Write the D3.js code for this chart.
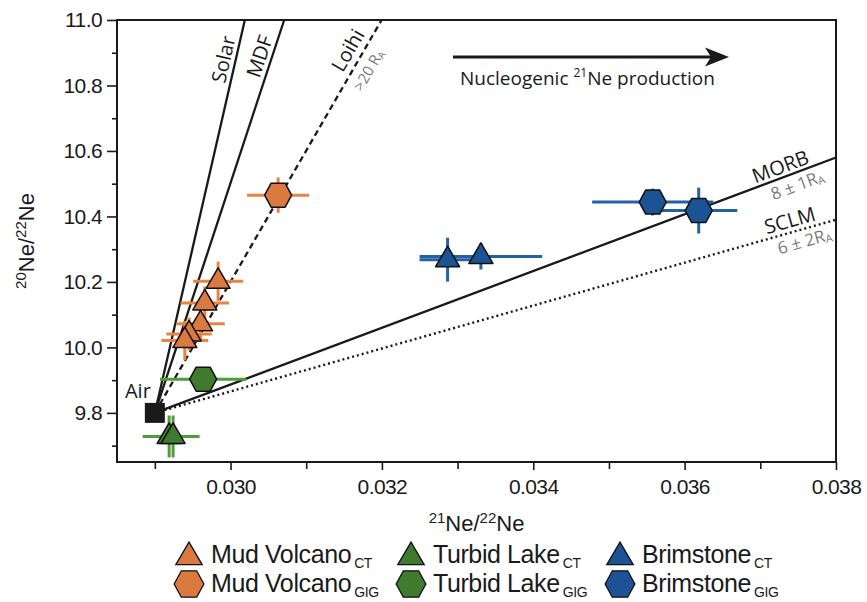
<!DOCTYPE html>
<html>
<head>
<meta charset="utf-8">
<script src="https://cdn.jsdelivr.net/npm/d3@7"></script>
<style>
  body { margin: 0; background: #fff; }
  svg { display: block; }
</style>
</head>
<body>
<svg id="chart" width="867" height="602"></svg>
<script>
// ---------------- data ----------------
// each row: [21Ne/22Ne, 20Ne/22Ne, x error, y error]
var mudVolcanoCT = [
	[0.029836, 10.202, 0.00033, 0.060],
	[0.029660, 10.136, 0.00032, 0.050],
	[0.029604, 10.072, 0.00032, 0.050],
	[0.029452, 10.041, 0.00030, 0.050],
	[0.029396, 10.021, 0.00031, 0.060]
];
var mudVolcanoGIG = [
	[0.030629, 10.465, 0.00041, 0.054]
];
var turbidLakeCT = [
	[0.029189, 9.728, 0.00035, 0.064],
	[0.029241, 9.728, 0.00035, 0.064]
];
var turbidLakeGIG = [
	[0.029638, 9.903, 0.00057, 0.020]
];
var brimstoneCT = [
	[0.032868, 10.268, 0.00037, 0.067],
	[0.033308, 10.278, 0.00081, 0.040]
];
var brimstoneGIG = [
	[0.035578, 10.444, 0.00080, 0.041],
	[0.036186, 10.418, 0.00051, 0.070]
];

var air = [0.0290, 9.80];

// mixing lines from air to their end point on the frame
var lineNames = ["Solar", "MDF", "Loihi", "MORB", "SCLM"];
var lineEnds = [
	[0.030189, 11.0],
	[0.030709, 11.0],
	[0.031996, 11.0],
	[0.0380, 10.580],
	[0.0380, 10.390]
];
var lineSubLabels = ["", "", ">20 R", "8 \u00b1 1R", "6 \u00b1 2R"];

var xTicks = [0.030, 0.032, 0.034, 0.036, 0.038];
var xMinorTicks = [0.029, 0.031, 0.033, 0.035, 0.037];
var yTicks = [9.8, 10.0, 10.2, 10.4, 10.6, 10.8, 11.0];
var yMinorTicks = [9.7, 9.9, 10.1, 10.3, 10.5, 10.7, 10.9];

var siteNames = ["Mud Volcano", "Turbid Lake", "Brimstone"];
var siteColors = ["#da7a41", "#3f7a2f", "#1c5395"];
var barColors = ["#e8843f", "#4d9e3b", "#2460a6"];

// ---------------- setup ----------------
var svg = d3.select("#chart");
var plotL = 117, plotR = 836, plotT = 20, plotB = 462;

var x = d3.scaleLinear().domain([0.0285, 0.038]).range([plotL, plotR]);
var y = d3.scaleLinear().domain([9.65, 11.0]).range([plotB, plotT]);

var axisFont = "'Liberation Sans', Arial, sans-serif";
var noteFont = "'Open Sans', 'Noto Sans', sans-serif";
var ink = "#1a1a1a";

// ---------------- reference lines ----------------
var lineGroup = svg.append("g");
lineNames.forEach(function(name, i) {
	var l = lineGroup.append("line")
		.attr("x1", x(air[0]))
		.attr("y1", y(air[1]))
		.attr("x2", x(lineEnds[i][0]))
		.attr("y2", y(lineEnds[i][1]))
		.attr("stroke", ink)
		.attr("stroke-width", 2.3);
	if (name == "Loihi") l.attr("stroke-dasharray", "6,4");
	if (name == "SCLM") l.attr("stroke-dasharray", "2,3").attr("stroke-width", 2.4);
});

function lineAngle(i) {
	var dx = x(lineEnds[i][0]) - x(air[0]);
	var dy = y(lineEnds[i][1]) - y(air[1]);
	return Math.atan2(dy, dx) * 180 / Math.PI;
}
// point at fraction t along line i
function linePoint(i, t) {
	var x0 = x(air[0]), y0 = y(air[1]);
	return [x0 + t * (x(lineEnds[i][0]) - x0), y0 + t * (y(lineEnds[i][1]) - y0)];
}

// [line index, fraction along line, baseline offset across line]
var labelSpots = [
	[0, 0.893, -5],
	[1, 0.898, -5],
	[2, 0.905, -7],
	[3, 0.924, -4],
	[4, 0.937, -5]
];
labelSpots.forEach(function(s) {
	var i = s[0], p = linePoint(i, s[1]);
	svg.append("text")
		.attr("transform", "translate(" + p[0] + "," + p[1] + ") rotate(" + lineAngle(i) + ")")
		.attr("text-anchor", "middle")
		.attr("dy", s[2])
		.attr("font-family", noteFont)
		.attr("font-size", 20)
		.attr("fill", ink)
		.text(lineNames[i]);
});

// grey sub labels below the lines
var subSpots = [
	[2, 0.89, 19],
	[3, 0.937, 18],
	[4, 0.949, 18]
];
subSpots.forEach(function(s) {
	var i = s[0], p = linePoint(i, s[1]);
	var big = i == 2 ? 15 : 17;
	var t = svg.append("text")
		.attr("transform", "translate(" + p[0] + "," + p[1] + ") rotate(" + lineAngle(i) + ")")
		.attr("text-anchor", "middle")
		.attr("dy", s[2])
		.attr("font-family", noteFont)
		.attr("font-size", big)
		.attr("fill", "#7a7a7a");
	t.append("tspan").text(lineSubLabels[i]);
	t.append("tspan").attr("font-size", big * 0.65).attr("dy", 2).text("A");
});

// ---------------- error bars + symbols ----------------
var triPath = "M0,-13.5L12,7L-12,7Z";
var hexPath = "M-13.5,0L-7,-12L7,-12L13.5,0L7,12L-7,12Z";

var series = [
	[mudVolcanoCT, 0, triPath],
	[mudVolcanoGIG, 0, hexPath],
	[turbidLakeCT, 1, triPath],
	[turbidLakeGIG, 1, hexPath],
	[brimstoneCT, 2, triPath],
	[brimstoneGIG, 2, hexPath]
];

var bars = svg.append("g");
series.forEach(function(s) {
	s[0].forEach(function(d) {
		bars.append("line")
			.attr("x1", x(d[0] - d[2])).attr("x2", x(d[0] + d[2]))
			.attr("y1", y(d[1])).attr("y2", y(d[1]))
			.attr("stroke", barColors[s[1]]).attr("stroke-width", 3);
		bars.append("line")
			.attr("x1", x(d[0])).attr("x2", x(d[0]))
			.attr("y1", y(d[1] - d[3])).attr("y2", y(d[1] + d[3]))
			.attr("stroke", barColors[s[1]]).attr("stroke-width", 3);
	});
});

// air standard
svg.append("rect")
	.attr("x", x(air[0]) - 10)
	.attr("y", y(air[1]) - 10)
	.attr("width", 20)
	.attr("height", 20)
	.attr("fill", ink);
svg.append("text")
	.attr("x", x(air[0]) - 4)
	.attr("y", y(air[1]) - 15)
	.attr("text-anchor", "end")
	.attr("font-family", noteFont)
	.attr("font-size", 20)
	.attr("fill", ink)
	.text("Air");

var marks = svg.append("g");
series.forEach(function(s) {
	marks.selectAll(null)
		.data(s[0])
		.enter().append("path")
		.attr("d", s[2])
		.attr("transform", function(d) { return "translate(" + x(d[0]) + "," + y(d[1]) + ")"; })
		.attr("fill", siteColors[s[1]])
		.attr("stroke", "#111")
		.attr("stroke-width", 1.5)
		.attr("stroke-linejoin", "round");
});

// ---------------- axes ----------------
var axes = svg.append("g").attr("font-family", axisFont);

axes.append("rect")
	.attr("x", plotL).attr("y", plotT)
	.attr("width", plotR - plotL).attr("height", plotB - plotT)
	.attr("fill", "none").attr("stroke", ink).attr("stroke-width", 2);

axes.append("g")
	.attr("transform", "translate(0," + plotB + ")")
	.call(d3.axisBottom(x).tickValues(xTicks).tickSize(8).tickPadding(9)
		.tickFormat(d3.format(".3f")));
axes.append("g")
	.attr("transform", "translate(0," + plotB + ")")
	.call(d3.axisBottom(x).tickValues(xMinorTicks).tickSize(7).tickFormat(""));

axes.append("g")
	.attr("transform", "translate(" + plotL + ",0)")
	.call(d3.axisLeft(y).tickValues(yTicks).tickSize(10).tickPadding(5)
		.tickFormat(d3.format(".1f")));
axes.append("g")
	.attr("transform", "translate(" + plotL + ",0)")
	.call(d3.axisLeft(y).tickValues(yMinorTicks).tickSize(5).tickFormat(""));

axes.selectAll(".domain").remove();
axes.selectAll(".tick line").attr("stroke", ink).attr("stroke-width", 1.6);
axes.selectAll(".tick text")
	.attr("font-size", 21)
	.attr("fill", ink)
	.attr("font-family", axisFont)
	.attr("letter-spacing", -0.6);

// axis titles
var xt = svg.append("text")
	.attr("x", (plotL + plotR) / 2)
	.attr("y", 531)
	.attr("text-anchor", "middle")
	.attr("font-family", axisFont)
	.attr("font-size", 22)
	.attr("fill", ink);
xt.append("tspan").attr("font-size", 15).attr("dy", -8).text("21");
xt.append("tspan").attr("dy", 8).text("Ne/");
xt.append("tspan").attr("font-size", 15).attr("dy", -8).text("22");
xt.append("tspan").attr("dy", 8).text("Ne");

var yt = svg.append("text")
	.attr("transform", "translate(34," + ((plotT + plotB) / 2) + ") rotate(-90)")
	.attr("text-anchor", "middle")
	.attr("font-family", axisFont)
	.attr("font-size", 22)
	.attr("fill", ink);
yt.append("tspan").attr("font-size", 15).attr("dy", -8).text("20");
yt.append("tspan").attr("dy", 8).text("Ne/");
yt.append("tspan").attr("font-size", 15).attr("dy", -8).text("22");
yt.append("tspan").attr("dy", 8).text("Ne");

// ---------------- nucleogenic arrow ----------------
svg.append("line")
	.attr("x1", 453).attr("y1", 57)
	.attr("x2", 714).attr("y2", 57)
	.attr("stroke", ink).attr("stroke-width", 3.2);
svg.append("path")
	.attr("d", "M729,57L705,47.5L711,57L705,66.5Z")
	.attr("fill", ink);

var nt = svg.append("text")
	.attr("x", 460).attr("y", 85)
	.attr("font-family", noteFont)
	.attr("font-size", 19)
	.attr("fill", ink);
nt.append("tspan").text("Nucleogenic ");
nt.append("tspan").attr("font-size", 12).attr("dy", -8).text("21");
nt.append("tspan").attr("dy", 8).text("Ne production");

// ---------------- legend ----------------
var legCols = [189, 411, 620];
var legRows = [555, 584];
var legShapes = [triPath, hexPath];
var legSubs = ["CT", "GIG"];

siteNames.forEach(function(name, c) {
	legRows.forEach(function(ry, r) {
		svg.append("path")
			.attr("d", legShapes[r])
			.attr("transform", "translate(" + legCols[c] + "," + (ry + (r == 0 ? 2 : 0)) + ") scale(1.1)")
			.attr("fill", siteColors[c])
			.attr("stroke", "#111")
			.attr("stroke-width", 1.2);
		var t = svg.append("text")
			.attr("x", legCols[c] + 22)
			.attr("y", ry + 8)
			.attr("font-family", axisFont)
			.attr("font-size", 25)
			.attr("letter-spacing", -0.4)
			.attr("fill", ink);
		t.append("tspan").text(name);
		t.append("tspan").attr("font-size", 14).attr("dx", 3).attr("dy", 5).text(legSubs[r]);
	});
});
</script>
</body>
</html>
